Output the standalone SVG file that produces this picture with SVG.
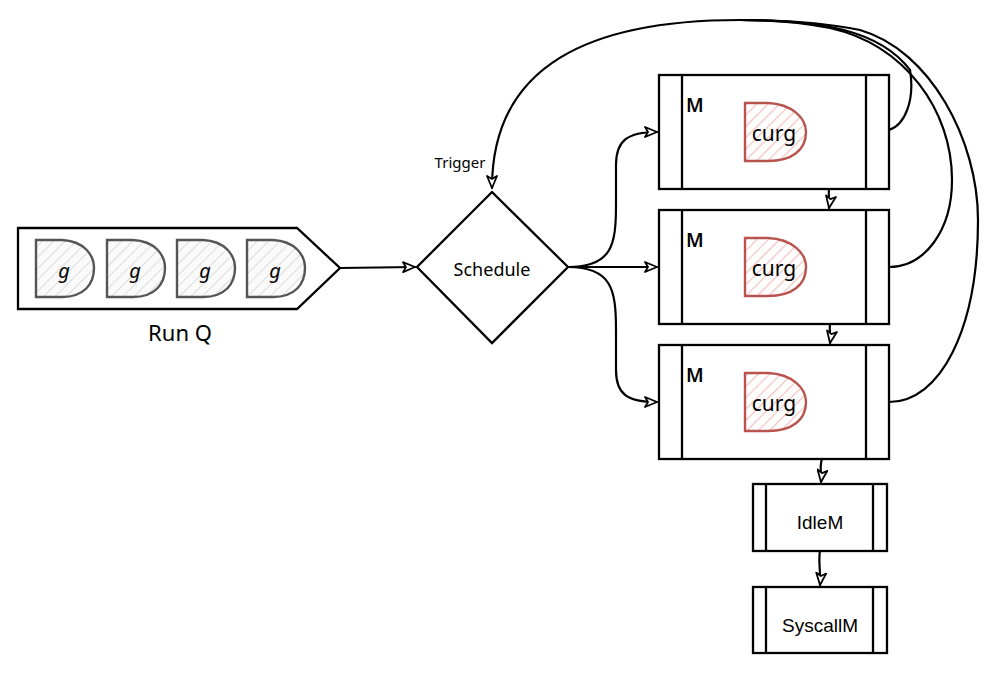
<svg xmlns="http://www.w3.org/2000/svg" width="1000" height="676" viewBox="0 0 1000 676">
  <style>
    .edge { fill: none; stroke: #000; stroke-width: 2.2; stroke-linecap: round; }
    .box { fill: #fff; stroke: #000; stroke-width: 2.3; }
    .bar { fill: none; stroke: #000; stroke-width: 2.3; }
    .hand { font-family: "Comic Sans MS", "Noto Sans", "DejaVu Sans", sans-serif; fill: #000; }
    .plain { font-family: "Liberation Sans", Arial, sans-serif; fill: #000; }
    .g { fill: url(#hatchGray); stroke: #555; stroke-width: 2.4; }
    .curg { fill: url(#hatchRed); stroke: #b9534e; stroke-width: 2.4; }
  </style>
  <defs>
    <pattern id="hatchGray" patternUnits="userSpaceOnUse" width="8" height="8" patternTransform="rotate(45)">
      <rect width="8" height="8" fill="#fafafa"/>
      <line x1="0" y1="0" x2="0" y2="8" stroke="#dcdcdc" stroke-width="2"/>
    </pattern>
    <pattern id="hatchRed" patternUnits="userSpaceOnUse" width="8" height="8" patternTransform="rotate(45)">
      <rect width="8" height="8" fill="#fff"/>
      <line x1="0" y1="0" x2="0" y2="8" stroke="#f2c4c2" stroke-width="2.5"/>
    </pattern>
    <marker id="arrow" viewBox="0 0 14 12" refX="13" refY="6" markerWidth="14" markerHeight="12" markerUnits="userSpaceOnUse" orient="auto">
      <path d="M1,1 L13,6 L1,11 L4,6 Z" fill="#fff" stroke="#000" stroke-width="1.8" stroke-linejoin="round"/>
    </marker>
  </defs>

  <rect width="1000" height="676" fill="#fff"/>

  <!-- connectors -->
  <g id="connectors">
    <!-- run queue to scheduler -->
    <path class="edge" d="M340,268 L415,267" marker-end="url(#arrow)"/>
    <!-- scheduler to each M -->
    <path class="edge" d="M568,267 C 612,267 616,245 616,205 L616,165 C 616,140 628,132 657,132" marker-end="url(#arrow)"/>
    <path class="edge" d="M568,267 L657,267" marker-end="url(#arrow)"/>
    <path class="edge" d="M568,267 C 612,267 616,290 616,330 L616,370 C 616,395 628,402 657,402" marker-end="url(#arrow)"/>
    <!-- M chain down to idle / syscall -->
    <path class="edge" d="M829,189 C 828,196 830,202 829,208" marker-end="url(#arrow)"/>
    <path class="edge" d="M830,324 C 829,331 831,337 830,343" marker-end="url(#arrow)"/>
    <path class="edge" d="M822,459 C 819,467 822,474 821,482" marker-end="url(#arrow)"/>
    <path class="edge" d="M820,551 C 818,560 821,575 820,585" marker-end="url(#arrow)"/>
    <!-- M back to scheduler (trigger) -->
    <path class="edge" d="M889,130 C 905,125 915,100 910,70 C 880,30 820,20 740,20 C 590,20 492,65 492,188" marker-end="url(#arrow)"/>
    <path class="edge" d="M889,267 C 925,267 952,230 952,180 C 952,110 905,45 830,28 C 800,22 770,20 740,20"/>
    <path class="edge" d="M889,402 C 940,402 978,330 978,220 C 978,140 930,50 860,30 C 820,22 780,20 740,20"/>
  </g>

  <!-- run queue -->
  <g id="runq">
    <path class="box" d="M18,228 L297,228 L340,268 L297,309 L18,309 Z"/>
    <path class="g" d="M36,240 L62,240 C 84,241 94,255 94,268 C 94,284 84,297 62,297 L36,297 Z"/>
    <path class="g" d="M107,240 L133,240 C 155,241 165,255 165,268 C 165,284 155,297 133,297 L107,297 Z"/>
    <path class="g" d="M177,240 L203,240 C 225,241 235,255 235,268 C 235,284 225,297 203,297 L177,297 Z"/>
    <path class="g" d="M247,240 L273,240 C 295,241 305,255 305,268 C 305,284 295,297 273,297 L247,297 Z"/>
    <text class="hand" x="64" y="278" font-size="20" font-style="italic" text-anchor="middle">g</text>
    <text class="hand" x="135" y="278" font-size="20" font-style="italic" text-anchor="middle">g</text>
    <text class="hand" x="205" y="278" font-size="20" font-style="italic" text-anchor="middle">g</text>
    <text class="hand" x="275" y="278" font-size="20" font-style="italic" text-anchor="middle">g</text>
    <text class="hand" x="180" y="341" font-size="22" text-anchor="middle">Run Q</text>
  </g>

  <!-- scheduler -->
  <g id="schedule">
    <path class="box" d="M492,192 L568,267 L492,343 L417,267 Z"/>
    <text class="hand" x="492" y="276" font-size="18" text-anchor="middle">Schedule</text>
    <text class="hand" x="460" y="168" font-size="15" text-anchor="middle">Trigger</text>
  </g>

  <!-- machines -->
  <g id="m1">
    <rect class="box" x="659" y="75" width="230" height="114"/>
    <line class="bar" x1="682" y1="75" x2="682" y2="189"/>
    <line class="bar" x1="866" y1="75" x2="866" y2="189"/>
    <text class="hand" x="686" y="112" font-size="19" font-weight="600">M</text>
    <path class="curg" d="M745,103 L768,103 C 792,104 806,118 806,132 C 806,150 792,161 768,161 L745,161 Z"/>
    <text class="hand" x="774" y="141" font-size="21" text-anchor="middle">curg</text>
  </g>
  <g id="m2">
    <rect class="box" x="659" y="210" width="230" height="114"/>
    <line class="bar" x1="682" y1="210" x2="682" y2="324"/>
    <line class="bar" x1="866" y1="210" x2="866" y2="324"/>
    <text class="hand" x="686" y="247" font-size="19" font-weight="600">M</text>
    <path class="curg" d="M745,238 L768,238 C 792,239 806,253 806,267 C 806,285 792,296 768,296 L745,296 Z"/>
    <text class="hand" x="774" y="276" font-size="21" text-anchor="middle">curg</text>
  </g>
  <g id="m3">
    <rect class="box" x="659" y="345" width="230" height="114"/>
    <line class="bar" x1="682" y1="345" x2="682" y2="459"/>
    <line class="bar" x1="866" y1="345" x2="866" y2="459"/>
    <text class="hand" x="686" y="382" font-size="19" font-weight="600">M</text>
    <path class="curg" d="M745,373 L768,373 C 792,374 806,388 806,402 C 806,420 792,431 768,431 L745,431 Z"/>
    <text class="hand" x="774" y="411" font-size="21" text-anchor="middle">curg</text>
  </g>

  <g id="idlem">
    <rect class="box" x="753" y="484" width="134" height="67"/>
    <line class="bar" x1="766" y1="484" x2="766" y2="551"/>
    <line class="bar" x1="873" y1="484" x2="873" y2="551"/>
    <text class="plain" x="820" y="529" font-size="19" text-anchor="middle">IdleM</text>
  </g>
  <g id="syscallm">
    <rect class="box" x="753" y="587" width="134" height="66"/>
    <line class="bar" x1="766" y1="587" x2="766" y2="653"/>
    <line class="bar" x1="873" y1="587" x2="873" y2="653"/>
    <text class="plain" x="820" y="632" font-size="19" text-anchor="middle">SyscallM</text>
  </g>
</svg>
